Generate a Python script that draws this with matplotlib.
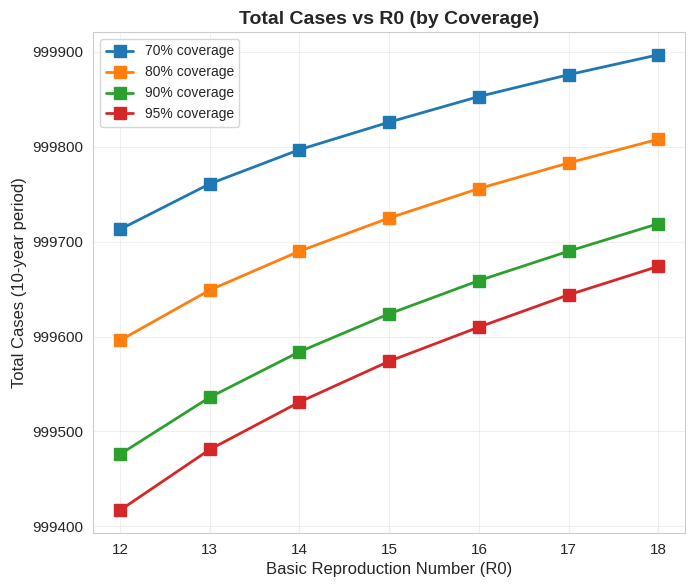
import numpy as np
import seaborn as sns
from matplotlib import pyplot as plt
from matplotlib.ticker import ScalarFormatter

r0_values = [12, 13, 14, 15, 16, 17, 18]
coverage_labels = ["70% coverage", "80% coverage", "90% coverage", "95% coverage"]
cases_70 = [999713, 999761, 999797, 999826, 999853, 999876, 999897]
cases_80 = [999596, 999649, 999690, 999725, 999756, 999783, 999808]
cases_90 = [999476, 999536, 999584, 999624, 999659, 999690, 999719]
cases_95 = [999417, 999481, 999531, 999574, 999610, 999644, 999674]

sns.set_style("whitegrid")
plt.rcParams['font.family'] = ['Liberation Sans', 'DejaVu Sans']

fig, ax = plt.subplots(figsize=(6.95, 5.87), dpi=100)
for _cases, _label in zip([cases_70, cases_80, cases_90, cases_95], coverage_labels):
    ax.plot(r0_values, _cases, marker="s", markersize=8, linewidth=2, label=_label)

ax.set_xlabel("Basic Reproduction Number (R0)", fontsize=12)
ax.set_ylabel("Total Cases (10-year period)", fontsize=12)
ax.set_title("Total Cases vs R0 (by Coverage)", fontsize=14, fontweight="bold")
ax.set_xticks(r0_values)
fmt = ScalarFormatter(useOffset=False)
fmt.set_scientific(False)
ax.yaxis.set_major_formatter(fmt)
ax.tick_params(labelsize=11)
ax.grid(True, alpha=0.3)
ax.legend(loc="upper left", fontsize=10)

plt.subplots_adjust(left=0.134, right=0.986, top=0.9455, bottom=0.092)
plt.savefig("out.png", dpi=100)
